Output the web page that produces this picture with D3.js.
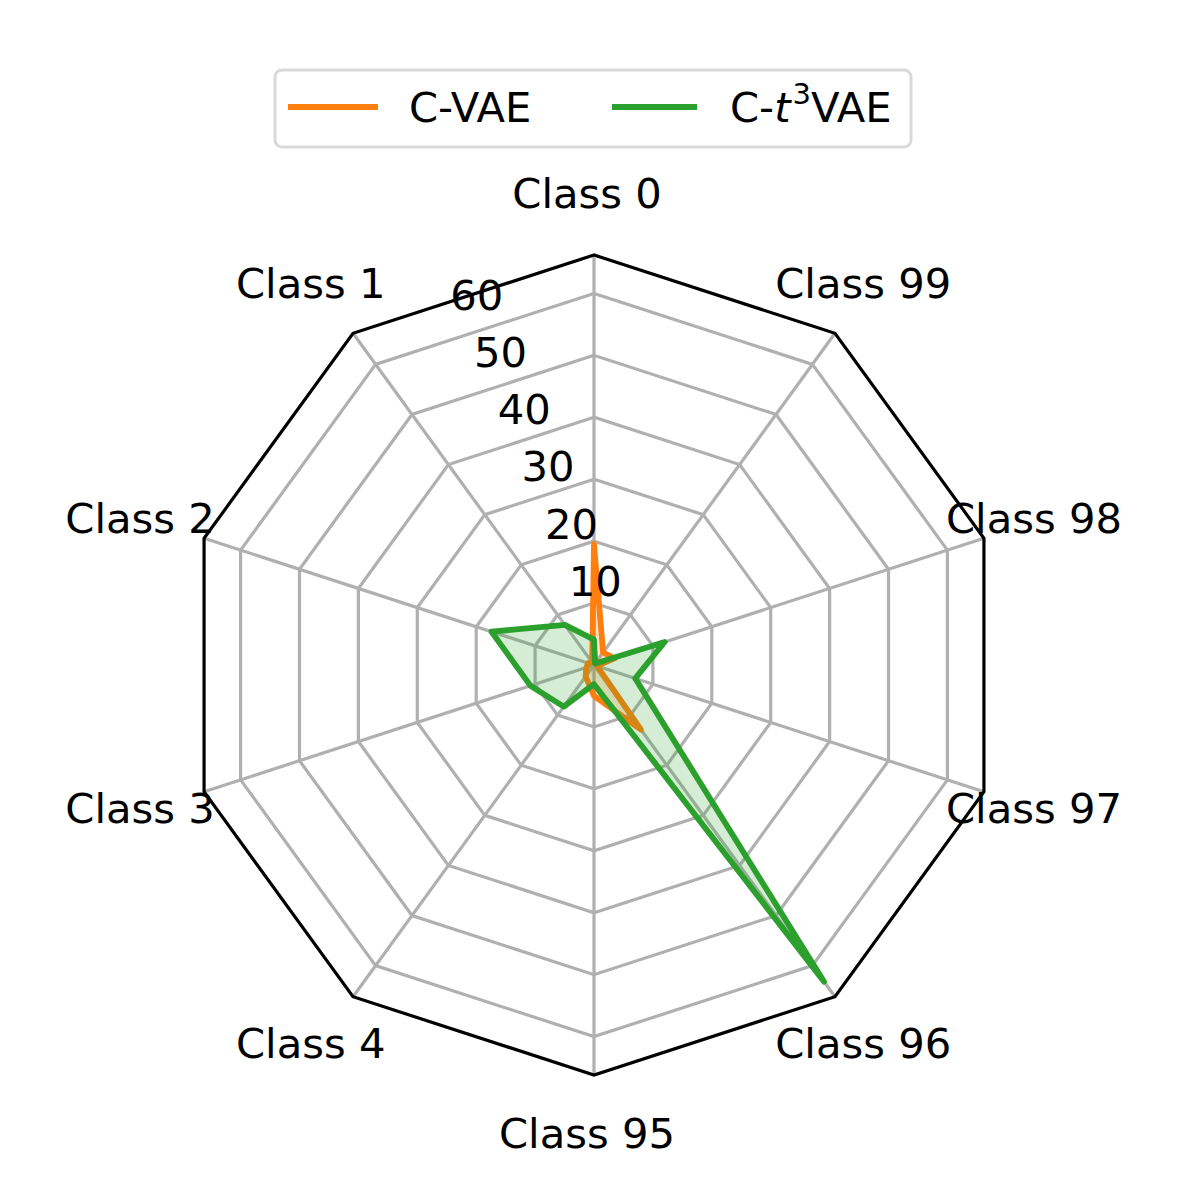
<!DOCTYPE html>
<html>
<head>
<meta charset="utf-8">
<script src="https://cdn.jsdelivr.net/npm/d3@7"></script>
<style>
  body { margin: 0; background: #fff; }
  svg { display: block; font-family: "DejaVu Sans", sans-serif; }
</style>
</head>
<body>
<script>
// classes, counter-clockwise from the top
var classes = ['Class 0', 'Class 1', 'Class 2', 'Class 3', 'Class 4',
               'Class 95', 'Class 96', 'Class 97', 'Class 98', 'Class 99'];
var cvae   = [19.5, 0.5, 1.0, 1.3, 2.3, 5.0, 12.9, 0.5, 3.5, 2.5];
var ct3vae = [4.1, 8.0, 17.4, 10.8, 8.3, 3.1, 63.2, 7.0, 12.0, 0.3];
var ticks = [10, 20, 30, 40, 50, 60];
var rMax = 66.2;

var width = 1200, height = 1200,
    cx = 594, cy = 665,
    fontSize = 41.7;

var svg = d3.select('body').append('svg')
    .attr('width', width).attr('height', height);

var r = d3.scaleLinear().domain([0, rMax]).range([0, 410]);
var angle = function(i) { return -i * 2 * Math.PI / classes.length; };

var g = svg.append('g').attr('transform', 'translate(' + cx + ',' + cy + ')');

var ring = d3.lineRadial()
    .angle(function(d, i) { return angle(i); })
    .curve(d3.curveLinearClosed);

// grid rings
g.selectAll('.ring').data(ticks).enter().append('path')
    .attr('d', function(t) { return ring.radius(r(t))(classes); })
    .attr('fill', 'none').attr('stroke', '#b0b0b0').attr('stroke-width', 3.2);

// spokes
g.selectAll('.spoke').data(classes).enter().append('line')
    .attr('x1', 0).attr('y1', 0)
    .attr('x2', function(d, i) { return r(rMax) * Math.sin(angle(i)); })
    .attr('y2', function(d, i) { return -r(rMax) * Math.cos(angle(i)); })
    .attr('stroke', '#b0b0b0').attr('stroke-width', 3.2);

// outer frame
g.append('path')
    .attr('d', ring.radius(r(rMax))(classes))
    .attr('fill', 'none').attr('stroke', '#000').attr('stroke-width', 3.2);

// series
var series = [
  { name: 'C-VAE', values: cvae, color: '#ff7f0e' },
  { name: 'C-t3VAE', values: ct3vae, color: '#2ca02c' }
];
var shape = d3.lineRadial()
    .angle(function(d, i) { return angle(i); })
    .radius(function(d) { return r(d); })
    .curve(d3.curveLinearClosed);

series.forEach(function(s) {
  g.append('path').attr('d', shape(s.values))
      .attr('fill', s.color).attr('fill-opacity', 0.2).attr('stroke', 'none');
  g.append('path').attr('d', shape(s.values))
      .attr('fill', 'none').attr('stroke', s.color).attr('stroke-width', 5.8)
      .attr('stroke-linejoin', 'round').attr('stroke-linecap', 'round');
});

// radial tick labels along 22.5 degrees
var la = 22.5 * Math.PI / 180;
g.selectAll('.rlabel').data(ticks).enter().append('text')
    .attr('x', function(t) { return -r(t) * Math.sin(la) + 25; })
    .attr('y', function(t) { return -r(t) * Math.cos(la) - 27; })
    .attr('dy', '0.36em')
    .attr('text-anchor', 'middle')
    .attr('font-size', fontSize)
    .text(function(t) { return t; });

// class labels
g.selectAll('.clabel').data(classes).enter().append('text')
    .attr('x', function(d, i) { return 470 * Math.sin(angle(i)) - 7; })
    .attr('y', function(d, i) { return -470 * Math.cos(angle(i)) - 2; })
    .attr('dy', '0.36em')
    .attr('text-anchor', 'middle')
    .attr('font-size', fontSize)
    .text(function(d) { return d; });

// legend
var legend = svg.append('g');
legend.append('rect')
    .attr('x', 275).attr('y', 70).attr('width', 636).attr('height', 77)
    .attr('rx', 7).attr('fill', '#fff')
    .attr('stroke', '#d9d9d9').attr('stroke-width', 3);

legend.append('line').attr('x1', 288).attr('x2', 378).attr('y1', 107).attr('y2', 107)
    .attr('stroke', series[0].color).attr('stroke-width', 5.8);
legend.append('text').attr('x', 409).attr('y', 107).attr('dy', '0.36em')
    .attr('font-size', fontSize).text('C-VAE');

legend.append('line').attr('x1', 612).attr('x2', 697).attr('y1', 107).attr('y2', 107)
    .attr('stroke', series[1].color).attr('stroke-width', 5.8);
var t3 = legend.append('text').attr('x', 730).attr('y', 107).attr('dy', '0.36em')
    .attr('font-size', fontSize);
t3.append('tspan').text('C-');
t3.append('tspan').attr('font-style', 'italic').text('t');
t3.append('tspan').attr('font-size', 29).attr('dx', 2).attr('dy', -18).text('3');
t3.append('tspan').attr('dy', 18).text('VAE');
</script>
</body>
</html>
